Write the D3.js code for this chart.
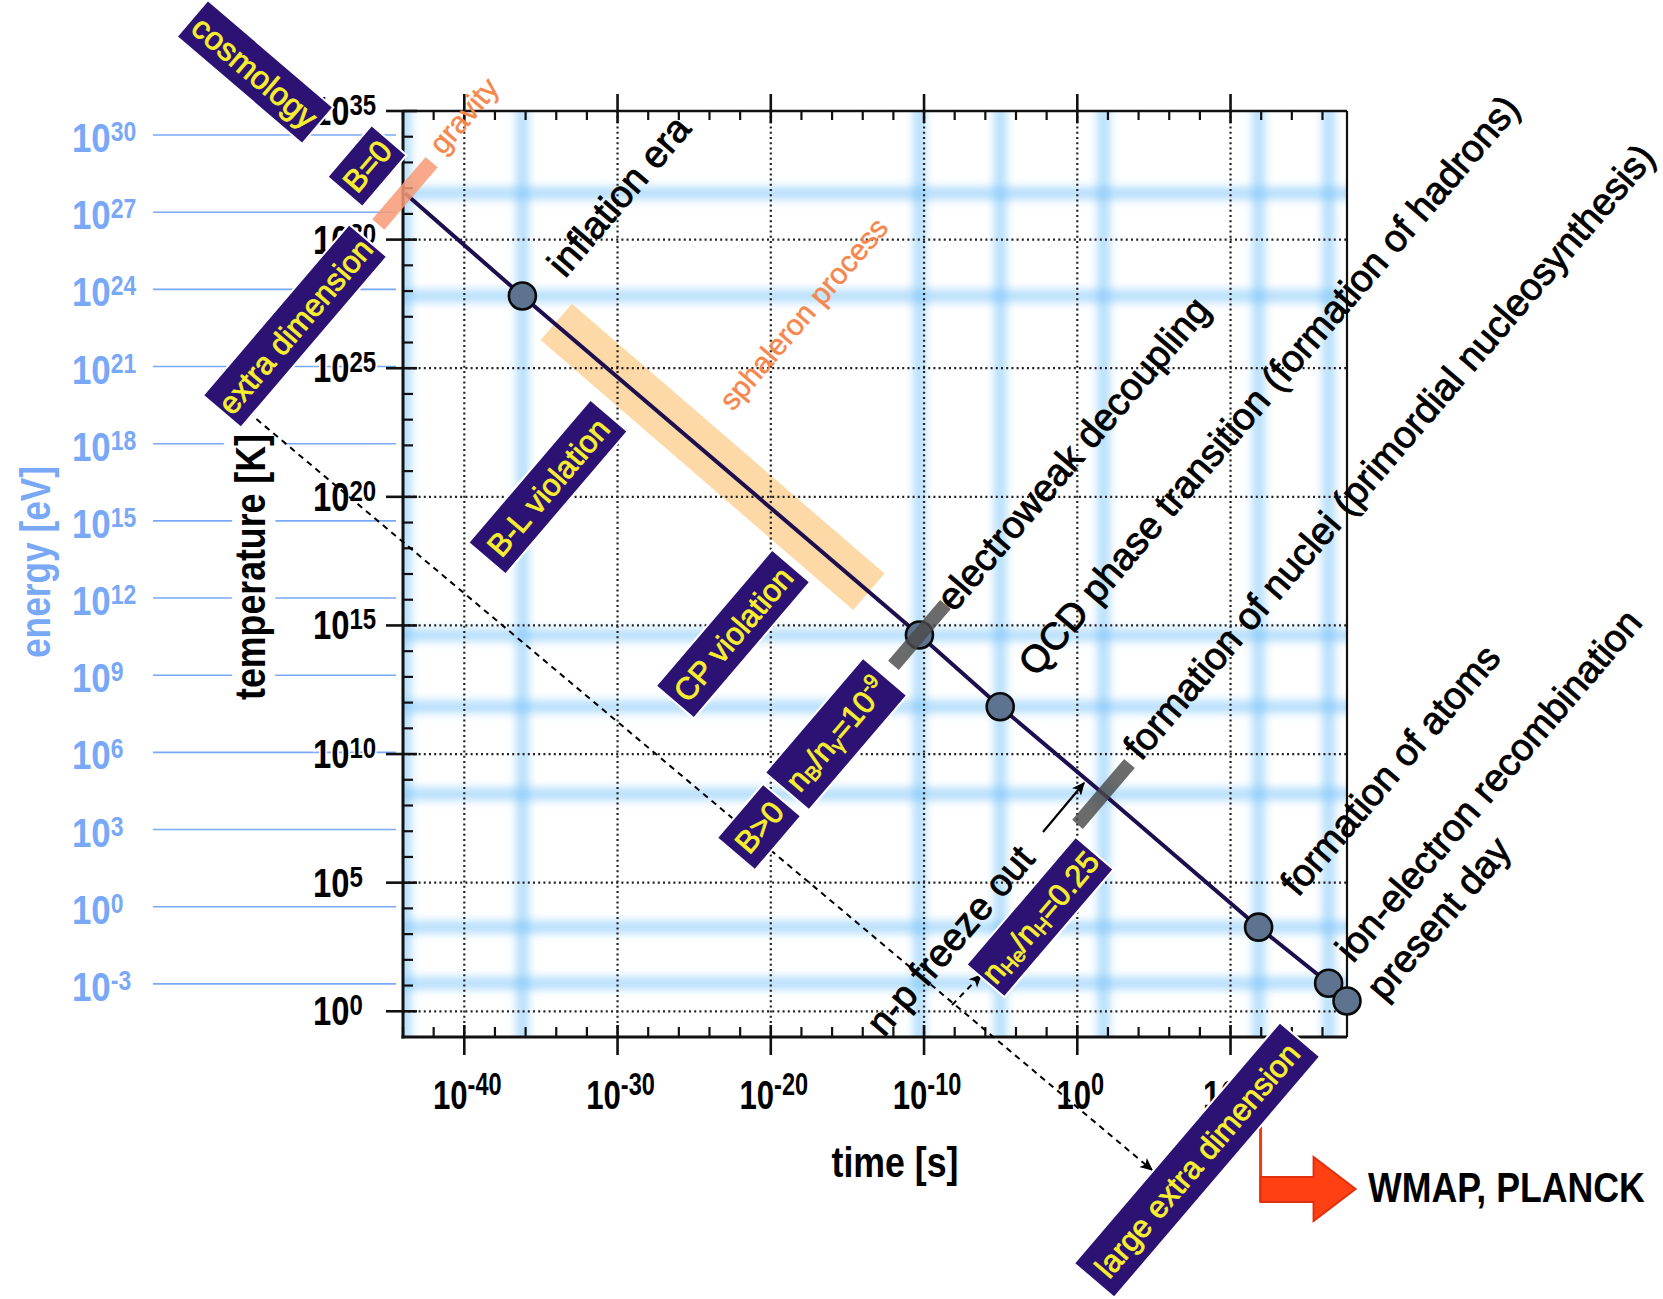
<!DOCTYPE html>
<html><head><meta charset="utf-8">
<script src="https://cdnjs.cloudflare.com/ajax/libs/d3/7.8.5/d3.min.js"></script>
<style>body{margin:0;background:#fff}svg{display:block}</style>
</head><body>
<svg id="c" width="1663" height="1299"></svg>
<script>
// ---------------- data ----------------
const timeTickExp = [-40, -30, -20, -10, 0, 10];
const timeTickLabels = ["-40", "-30", "-20", "-10", "0", "10"];
const tempTickExp = [0, 5, 10, 15, 20, 25, 30, 35];
const tempTickLabels = ["0", "5", "10", "15", "20", "25", "30", "35"];
const energyTickExp = [30, 27, 24, 21, 18, 15, 12, 9, 6, 3, 0, -3];
const energyTickLabels = ["30", "27", "24", "21", "18", "15", "12", "9", "6", "3", "0", "-3"];

const eventNames = ["Planck", "inflation era", "electroweak decoupling",
  "QCD phase transition (formation of hadrons)",
  "formation of nuclei (primordial nucleosynthesis)",
  "formation of atoms", "ion-electron recombination", "present day"];
const eventLogTime = [-43.87, -36.21, -10.3, -5.03, 1.71, 11.83, 16.4, 17.6];   // log10 seconds
const eventLogTemp = [31.8, 27.81, 14.63, 11.84, 8.45, 3.27, 1.09, 0.4];        // log10 kelvin
const eventHasDot = [false, true, true, true, false, true, true, true];
const eventHasBand = [true, true, true, true, true, true, true, false];
const eventHasBar = [false, false, true, false, true, false, false, false];

const sphaleronLogTime = [-34.0, -13.6];   // along the temperature curve
const boltzmannEV = 8.617e-5;              // eV per K

// ---------------- setup ----------------
const svg = d3.select("#c");
const x = d3.scaleLog().domain([1e-44, Math.pow(10, 17.6)]).range([403, 1347]);
const y = d3.scaleLog().domain([0.1, 1e35]).range([1037, 111]);
const yE = d3.scaleLog().domain([0.1 * boltzmannEV, 1e35 * boltzmannEV]).range([1037, 111]);
const X = e => x(Math.pow(10, e));
const Y = e => y(Math.pow(10, e));
const YE = e => yE(Math.pow(10, e));
const L = 403, R = 1347, T = 111, B = 1037;

const sans = "'Liberation Sans',Arial,Helvetica,sans-serif";
const ANG = -49.5;
const BLUE = "#78a8f6";

// condensed text group
function ctext(parent, px, py, sx, rot) {
  const g = parent.append("g").attr("transform", `translate(${px},${py})` + (rot ? ` rotate(${rot})` : "") + ` scale(${sx},1)`);
  return g.append("text").attr("font-family", sans).attr("font-weight", "bold");
}

const defs = svg.append("defs");
defs.append("filter").attr("id", "blur").attr("filterUnits", "userSpaceOnUse")
  .attr("x", 0).attr("y", 0).attr("width", 1663).attr("height", 1299)
  .append("feGaussianBlur").attr("stdDeviation", 4);
defs.append("clipPath").attr("id", "plot").append("rect")
  .attr("x", L).attr("y", T).attr("width", R - L).attr("height", B - T);
defs.append("marker").attr("id", "ah").attr("viewBox", "0 0 10 10")
  .attr("refX", 9).attr("refY", 5).attr("markerWidth", 13).attr("markerHeight", 13)
  .attr("markerUnits", "userSpaceOnUse").attr("orient", "auto")
  .append("path").attr("d", "M0,0.5 L10,5 L0,9.5 L2.5,5 z").attr("fill", "#000");

// ---------------- energy axis (blue) ----------------
const eg = svg.append("g");
energyTickExp.forEach((e, i) => {
  const yy = YE(e);
  eg.append("line").attr("x1", 153).attr("x2", 396).attr("y1", yy).attr("y2", yy)
    .attr("stroke", BLUE).attr("stroke-width", 1.6);
  const t = ctext(eg, 72, yy + 17, 0.85).attr("fill", BLUE);
  t.append("tspan").attr("font-size", 41).text("10");
  t.append("tspan").attr("font-size", 27).attr("dy", -11).text(energyTickLabels[i]);
});
ctext(svg, 50, 562, 0.84, -90).attr("text-anchor", "middle").attr("font-size", 42)
  .attr("fill", BLUE).text("energy [eV]");

// ---------------- blurred bands ----------------
const bandG = svg.append("g").attr("clip-path", "url(#plot)").append("g").attr("filter", "url(#blur)");
eventLogTime.forEach((t, i) => {
  if (!eventHasBand[i]) return;
  bandG.append("line").attr("x1", X(t)).attr("x2", X(t)).attr("y1", T - 20).attr("y2", B + 20)
    .attr("stroke", "#6fc0fa").attr("stroke-width", 13).attr("stroke-opacity", 0.5);
  bandG.append("line").attr("y1", Y(eventLogTemp[i])).attr("y2", Y(eventLogTemp[i]))
    .attr("x1", L - 20).attr("x2", R + 20)
    .attr("stroke", "#6fc0fa").attr("stroke-width", 13).attr("stroke-opacity", 0.5);
});

// temperature on the curve at a given log time
function tempAt(lt) {
  for (let i = 0; i < eventLogTime.length - 1; i++) {
    if (lt >= eventLogTime[i] && lt <= eventLogTime[i + 1]) {
      const f = (lt - eventLogTime[i]) / (eventLogTime[i + 1] - eventLogTime[i]);
      return eventLogTemp[i] + f * (eventLogTemp[i + 1] - eventLogTemp[i]);
    }
  }
  return eventLogTemp[eventLogTemp.length - 1];
}

// ---------------- sphaleron band ----------------
svg.append("line")
  .attr("x1", X(sphaleronLogTime[0])).attr("y1", Y(tempAt(sphaleronLogTime[0])) - 3)
  .attr("x2", X(sphaleronLogTime[1])).attr("y2", Y(tempAt(sphaleronLogTime[1])))
  .attr("stroke", "#fdd9a8").attr("stroke-width", 48);

// ---------------- grid ----------------
const grid = svg.append("g").attr("stroke", "#222").attr("stroke-width", 2.2)
  .attr("stroke-dasharray", "2,3.2");
timeTickExp.forEach(e => grid.append("line").attr("x1", X(e)).attr("x2", X(e)).attr("y1", T).attr("y2", B));
tempTickExp.forEach(e => grid.append("line").attr("y1", Y(e)).attr("y2", Y(e)).attr("x1", L).attr("x2", R));

// ---------------- frame & ticks ----------------
const ax = svg.append("g").attr("stroke", "#111");
ax.append("line").attr("x1", L).attr("x2", L).attr("y1", T).attr("y2", B + 1.5).attr("stroke-width", 3);
ax.append("line").attr("x1", L - 1.5).attr("x2", R).attr("y1", B).attr("y2", B).attr("stroke-width", 3);
ax.append("line").attr("x1", L).attr("x2", R).attr("y1", T).attr("y2", T).attr("stroke-width", 2.5);
ax.append("line").attr("x1", R).attr("x2", R).attr("y1", T).attr("y2", B).attr("stroke-width", 2.2);
const minorT = d3.range(-44, 17, 2).filter(e => e % 10 !== 0);
minorT.forEach(e => {
  ax.append("line").attr("x1", X(e)).attr("x2", X(e)).attr("y1", B).attr("y2", B - 10).attr("stroke-width", 2.2);
  ax.append("line").attr("x1", X(e)).attr("x2", X(e)).attr("y1", T).attr("y2", T + 9).attr("stroke-width", 2.2);
});
timeTickExp.forEach(e => {
  ax.append("line").attr("x1", X(e)).attr("x2", X(e)).attr("y1", B - 12).attr("y2", B + 18).attr("stroke-width", 2.6);
  ax.append("line").attr("x1", X(e)).attr("x2", X(e)).attr("y1", T - 17).attr("y2", T + 12).attr("stroke-width", 2.6);
});
d3.range(0, 35).filter(e => e % 5 !== 0).forEach(e => {
  ax.append("line").attr("x1", L).attr("x2", L + 10).attr("y1", Y(e)).attr("y2", Y(e)).attr("stroke-width", 2.2);
});
tempTickExp.forEach(e => {
  ax.append("line").attr("x1", L - 17).attr("x2", L + 14).attr("y1", Y(e)).attr("y2", Y(e)).attr("stroke-width", 2.6);
});

// ---------------- temperature curve ----------------
const lineGen = d3.line().x((d, i) => X(eventLogTime[i])).y((d, i) => Y(eventLogTemp[i]));
svg.append("path").attr("d", lineGen(eventLogTime)).attr("fill", "none")
  .attr("stroke", "#1d0e4e").attr("stroke-width", 4);

const dotIdx = eventLogTime.map((d, i) => i).filter(i => eventHasDot[i]);
svg.selectAll("circle.ev").data(dotIdx).enter().append("circle").attr("class", "ev")
  .attr("cx", i => X(eventLogTime[i])).attr("cy", i => Y(eventLogTemp[i])).attr("r", 13.5)
  .attr("fill", "#5e7390").attr("stroke", "#0a0a0a").attr("stroke-width", 2.6);

// grey bars across the curve
eventLogTime.forEach((t, i) => {
  if (!eventHasBar[i]) return;
  svg.append("rect").attr("x", -40).attr("y", -7).attr("width", 80).attr("height", 14)
    .attr("transform", `translate(${X(t)},${Y(eventLogTemp[i])}) rotate(${ANG})`)
    .attr("fill", "#4a4a4a").attr("fill-opacity", 0.82);
});
// gravity bar at the Planck point
svg.append("rect").attr("x", -41).attr("y", -8).attr("width", 82).attr("height", 16)
  .attr("transform", `translate(${X(eventLogTime[0])},${Y(eventLogTemp[0])}) rotate(${ANG})`)
  .attr("fill", "#f89a76").attr("fill-opacity", 0.85);

// ---------------- tick labels ----------------
tempTickExp.forEach((e, i) => {
  const t = ctext(svg, 313, Y(e) + 14, 0.8).attr("fill", "#000")
    .attr("stroke", "#fff").attr("stroke-width", 4).attr("paint-order", "stroke");
  t.append("tspan").attr("font-size", 41).text("10");
  t.append("tspan").attr("font-size", 30).attr("dy", -10).text(tempTickLabels[i]);
});
timeTickExp.forEach((e, i) => {
  const t = ctext(svg, X(e) + 3, 1109, 0.76).attr("text-anchor", "middle").attr("fill", "#000");
  t.append("tspan").attr("font-size", 41).text("10");
  t.append("tspan").attr("font-size", 31).attr("dy", -14).text(timeTickLabels[i]);
});
ctext(svg, 895, 1177, 0.85).attr("text-anchor", "middle").attr("font-size", 42).text("time [s]");
ctext(svg, 265, 567, 0.85, -90).attr("text-anchor", "middle").attr("font-size", 42)
  .attr("stroke", "#fff").attr("stroke-width", 20).attr("paint-order", "stroke")
  .text("temperature [K]");

// ---------------- event labels ----------------
const eventLabelPos = [null, [565, 279], [954, 613], [1036, 678], [1141, 762], [1298, 898], [1353, 964], [1384, 1002]];
eventNames.forEach((n, i) => {
  const p = eventLabelPos[i];
  if (!p) return;
  svg.append("text").attr("transform", `translate(${p[0]},${p[1]}) rotate(${ANG})`)
    .attr("font-family", sans).attr("font-size", 38).attr("fill", "#000")
    .attr("stroke", "#000").attr("stroke-width", 0.9).text(n);
});
svg.append("text").attr("transform", `translate(884,1038) rotate(${ANG})`)
  .attr("font-family", sans).attr("font-size", 38).attr("stroke", "#000").attr("stroke-width", 0.9)
  .text("n-p freeze out");
svg.append("line").attr("x1", 1043).attr("y1", 832).attr("x2", 1084).attr("y2", 783)
  .attr("stroke", "#000").attr("stroke-width", 2.2).attr("marker-end", "url(#ah)");
svg.append("text").attr("transform", `translate(443,156) rotate(${ANG})`)
  .attr("font-family", sans).attr("font-size", 30).attr("fill", "#f5874d")
  .attr("stroke", "#f5874d").attr("stroke-width", 0.5).text("gravity");
svg.append("text").attr("transform", `translate(733,412) rotate(${ANG})`)
  .attr("font-family", sans).attr("font-size", 29.5).attr("fill", "#f5874d")
  .attr("stroke", "#f5874d").attr("stroke-width", 0.5).text("sphaleron process");

// ---------------- dashed arrows ----------------
svg.append("line").attr("x1", 248).attr("y1", 412).attr("x2", 1152).attr("y2", 1170)
  .attr("stroke", "#000").attr("stroke-width", 2).attr("stroke-dasharray", "6,5")
  .attr("marker-end", "url(#ah)");
svg.append("line").attr("x1", 952).attr("y1", 1005).attr("x2", 981).attr("y2", 975)
  .attr("stroke", "#000").attr("stroke-width", 2).attr("stroke-dasharray", "6,5")
  .attr("marker-end", "url(#ah)");

// ---------------- WMAP / PLANCK arrow ----------------
const xr = X(eventLogTime[5]) + 2;
svg.append("line").attr("x1", xr).attr("x2", xr).attr("y1", 1045).attr("y2", 1202)
  .attr("stroke", "#f03a10").attr("stroke-width", 3);
svg.append("path")
  .attr("d", `M${xr},1177 L${xr + 53},1177 L${xr + 53},1157 L${xr + 95},1189 L${xr + 53},1221 L${xr + 53},1202 L${xr},1202 Z`)
  .attr("fill", "#ff4012").attr("stroke", "#e3300c").attr("stroke-width", 2);
ctext(svg, 1368, 1202, 0.83).attr("font-size", 43).text("WMAP, PLANCK");

// ---------------- boxes ----------------
const boxes = [
  { parts: [["cosmology"]], cx: 255, cy: 72, len: 165, wid: 48, ang: 40.5, fs: 32 },
  { parts: [["B=0"]], cx: 367, cy: 166, len: 68, wid: 46, ang: ANG, fs: 31 },
  { parts: [["extra dimension"]], cx: 295, cy: 326, len: 225, wid: 50, ang: ANG, fs: 31 },
  { parts: [["B-L violation"]], cx: 548, cy: 487, len: 188, wid: 49, ang: ANG, fs: 31 },
  { parts: [["CP violation"]], cx: 733, cy: 634, len: 179, wid: 50, ang: ANG, fs: 31 },
  { parts: [["n"], ["B", "sub"], ["/n"], ["γ", "sub"], ["=10"], ["-9", "sup"]], cx: 836, cy: 734, len: 151, wid: 58, ang: ANG, fs: 31 },
  { parts: [["B>0"]], cx: 759, cy: 827, len: 71, wid: 50, ang: ANG, fs: 31 },
  { parts: [["n"], ["He", "sub"], ["/n"], ["H", "sub"], ["=0.25"]], cx: 1040, cy: 917, len: 168, wid: 50, ang: ANG, fs: 31 },
  { parts: [["large extra dimension"]], cx: 1197, cy: 1160, len: 317, wid: 53, ang: ANG, fs: 31 }
];
boxes.forEach(b => {
  const g = svg.append("g").attr("transform", `translate(${b.cx},${b.cy}) rotate(${b.ang})`);
  g.append("rect").attr("x", -b.len / 2).attr("y", -b.wid / 2).attr("width", b.len).attr("height", b.wid)
    .attr("fill", "#2c1373").attr("stroke", "#fff").attr("stroke-width", 2);
  const t = g.append("text").attr("text-anchor", "middle").attr("y", b.fs * 0.36)
    .attr("font-family", sans).attr("font-size", b.fs).attr("fill", "#f6ee2e")
    .attr("stroke", "#f6ee2e").attr("stroke-width", 0.8);
  let shift = 0;
  b.parts.forEach(p => {
    const s = t.append("tspan").text(p[0]);
    let target = 0;
    if (p[1] === "sub") { s.attr("font-size", b.fs * 0.65); target = 4; }
    if (p[1] === "sup") { s.attr("font-size", b.fs * 0.65); target = -12; }
    s.attr("dy", target - shift);
    shift = target;
  });
});
</script>
</body></html>
